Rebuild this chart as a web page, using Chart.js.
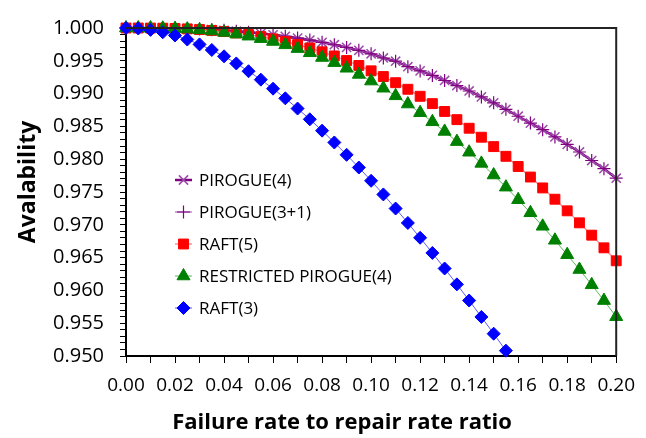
<!DOCTYPE html>
<html>
<head>
<meta charset="utf-8">
<script src="https://cdn.jsdelivr.net/npm/chart.js@4.4.1/dist/chart.umd.min.js"></script>
<style>
  html, body { margin: 0; padding: 0; background: #fff; }
  #wrap { width: 646px; height: 438px; position: relative; }
</style>
</head>
<body>
<div id="wrap"><canvas id="chart"></canvas></div>
<script>
// availability vs failure/repair ratio
const ratio = [0.000, 0.005, 0.010, 0.015, 0.020, 0.025, 0.030, 0.035, 0.040, 0.045,
  0.050, 0.055, 0.060, 0.065, 0.070, 0.075, 0.080, 0.085, 0.090, 0.095,
  0.100, 0.105, 0.110, 0.115, 0.120, 0.125, 0.130, 0.135, 0.140, 0.145,
  0.150, 0.155, 0.160, 0.165, 0.170, 0.175, 0.180, 0.185, 0.190, 0.195, 0.200];

const pirogue4 = [1.00000, 1.00000, 0.99999, 0.99997, 0.99994, 0.99989, 0.99983, 0.99975, 0.99964, 0.99951,
  0.99936, 0.99918, 0.99897, 0.99873, 0.99846, 0.99816, 0.99782, 0.99745, 0.99704, 0.99659,
  0.99607, 0.99543, 0.99494, 0.99410, 0.99346, 0.99277, 0.99200, 0.99123, 0.99040, 0.98950,
  0.98860, 0.98760, 0.98655, 0.98550, 0.98450, 0.98340, 0.98225, 0.98110, 0.97980, 0.97855, 0.97710];

const pirogue31 = [1.00000, 1.00000, 0.99999, 0.99997, 0.99994, 0.99989, 0.99983, 0.99975, 0.99964, 0.99951,
  0.99936, 0.99918, 0.99897, 0.99873, 0.99846, 0.99816, 0.99782, 0.99745, 0.99704, 0.99659,
  0.99607, 0.99543, 0.99494, 0.99410, 0.99346, 0.99277, 0.99200, 0.99123, 0.99040, 0.98950,
  0.98860, 0.98760, 0.98655, 0.98550, 0.98450, 0.98340, 0.98225, 0.98110, 0.97980, 0.97855, 0.97710];

const raft5 = [1.00000, 1.00000, 0.99999, 0.99997, 0.99993, 0.99986, 0.99976, 0.99963, 0.99946, 0.99925,
  0.99900, 0.99869, 0.99834, 0.99793, 0.99747, 0.99695, 0.99637, 0.99574, 0.99504, 0.99429,
  0.99347, 0.99260, 0.99166, 0.99066, 0.98959, 0.98847, 0.98728, 0.98603, 0.98472, 0.98335,
  0.98192, 0.98044, 0.97889, 0.97728, 0.97562, 0.97390, 0.97213, 0.97030, 0.96842, 0.96649, 0.96451];

const restricted4 = [1.00000, 1.00000, 0.99999, 0.99996, 0.99991, 0.99983, 0.99971, 0.99954, 0.99933, 0.99907,
  0.99875, 0.99838, 0.99794, 0.99743, 0.99686, 0.99622, 0.99550, 0.99472, 0.99386, 0.99292,
  0.99191, 0.99082, 0.98966, 0.98841, 0.98709, 0.98570, 0.98423, 0.98268, 0.98106, 0.97936,
  0.97759, 0.97574, 0.97382, 0.97183, 0.96977, 0.96764, 0.96544, 0.96318, 0.96085, 0.95845, 0.95599];

// RAFT(3) drops below the axis after 0.155
const raft3 = [1.00000, 0.99993, 0.99971, 0.99935, 0.99886, 0.99824, 0.99750, 0.99665, 0.99568, 0.99460,
  0.99341, 0.99213, 0.99075, 0.98928, 0.98772, 0.98608, 0.98435, 0.98255, 0.98067, 0.97873,
  0.97671, 0.97463, 0.97248, 0.97028, 0.96802, 0.96571, 0.96334, 0.96092, 0.95846, 0.95595,
  0.95340, 0.95081];

const seriesNames = ['PIROGUE(4)', 'PIROGUE(3+1)', 'RAFT(5)', 'RESTRICTED PIROGUE(4)', 'RAFT(3)'];
const xTitle = 'Failure rate to repair rate ratio';
const yTitle = 'Avalability';

const FONT = '"Open Sans", "Liberation Sans", sans-serif';

function pts(vals){
  return vals.map((v, i) => ({ x: ratio[i], y: v }));
}

const datasets = [
  { label: seriesNames[0], data: pts(pirogue4), borderColor: '#800080', borderWidth: 2.5,
    pointStyle: 'crossRot', pointRadius: 6.5, pointBorderColor: '#9a4aa8', pointBorderWidth: 1.5, order: 5 },
  { label: seriesNames[1], data: pts(pirogue31), borderColor: '#a050b0', borderWidth: 1,
    pointStyle: 'cross', pointRadius: 6.5, pointBorderColor: '#800080', pointBorderWidth: 1.2, order: 4 },
  { label: seriesNames[2], data: pts(raft5), borderColor: '#ff7b7b', borderWidth: 1.2,
    pointStyle: 'rect', pointRadius: 7, pointBackgroundColor: '#ff0000', pointBorderColor: '#ff0000', pointBorderWidth: 1, order: 3 },
  { label: seriesNames[3], data: pts(restricted4), borderColor: '#5fb65f', borderWidth: 1,
    pointStyle: 'triangle', pointRadius: 7.5, pointBackgroundColor: '#008000', pointBorderColor: '#008000', pointBorderWidth: 1, order: 2 },
  { label: seriesNames[4], data: pts(raft3), borderColor: '#5a5aff', borderWidth: 1,
    pointStyle: 'rectRot', pointRadius: 6.5, pointBackgroundColor: '#0000ff', pointBorderColor: '#0000ff', pointBorderWidth: 1, order: 1 }
];
datasets.forEach(d => { d.fill = false; d.tension = 0; d.clip = false; d.backgroundColor = d.borderColor; });

// frame around the plot area + axis titles (placed as in the original, not centred on the plot)
const frame = {
  id: 'frame',
  afterDraw(chart){
    const { ctx, chartArea: a } = chart;
    ctx.save();
    ctx.strokeStyle = '#222';
    ctx.lineWidth = 2;
    ctx.beginPath();
    ctx.moveTo(a.left, a.top); ctx.lineTo(a.right, a.top); ctx.lineTo(a.right, a.bottom);
    ctx.stroke();
    ctx.fillStyle = '#000';
    ctx.font = 'bold 22px ' + FONT;
    ctx.textAlign = 'center';
    ctx.textBaseline = 'middle';
    ctx.fillText(xTitle, 342, 423);
    ctx.translate(28, 182);
    ctx.rotate(-Math.PI / 2);
    ctx.font = 'bold 23px ' + FONT;
    ctx.fillText(yTitle, 0, 0);
    ctx.restore();
  }
};

// legend inside the plot
const insideLegend = {
  id: 'insideLegend',
  afterDraw(chart){
    const ctx = chart.ctx;
    const rows = [180, 212, 244, 276, 308];
    ctx.save();
    chart.data.datasets.forEach((d, i) => {
      const y = rows[i];
      ctx.strokeStyle = d.borderColor;
      ctx.lineWidth = d.borderWidth;
      ctx.beginPath(); ctx.moveTo(175, y); ctx.lineTo(192, y); ctx.stroke();
      const opts = { pointStyle: d.pointStyle, radius: d.pointRadius, borderWidth: d.pointBorderWidth, rotation: 0 };
      ctx.fillStyle = d.pointBackgroundColor || d.pointBorderColor;
      ctx.strokeStyle = d.pointBorderColor;
      ctx.lineWidth = d.pointBorderWidth;
      Chart.helpers.drawPoint(ctx, opts, 183.5, y);
      ctx.fillStyle = '#000';
      ctx.font = '17px ' + FONT;
      ctx.textBaseline = 'middle';
      ctx.textAlign = 'left';
      ctx.fillText(d.label, 199, y + 1);
    });
    ctx.restore();
  }
};

new Chart(document.getElementById('chart'), {
  type: 'line',
  data: { datasets },
  options: {
    responsive: true,
    maintainAspectRatio: false,
    animation: false,
    layout: { padding: { top: 18, right: 23, left: 0, bottom: 0 } },
    plugins: { legend: { display: false }, tooltip: { enabled: false } },
    scales: {
      x: {
        type: 'linear', min: 0, max: 0.2,
        afterFit(s){ s.height = 82; },
        border: { display: true, color: '#000', width: 2 },
        grid: { drawOnChartArea: false, drawTicks: true, tickLength: 7, color: '#000', tickWidth: 1 },
        ticks: {
          stepSize: 0.01, autoSkip: false, maxRotation: 0, color: '#000', padding: 11,
          font: { family: FONT, size: 19 },
          callback: v => Math.round(v * 100) % 2 === 0 ? v.toFixed(2) : ''
        }
      },
      y: {
        type: 'linear', min: 0.95, max: 1.0,
        afterFit(s){ s.width = 126; },
        border: { display: true, color: '#000', width: 2 },
        grid: { drawOnChartArea: false, drawTicks: true, tickLength: 6, color: '#000', tickWidth: 1 },
        ticks: {
          stepSize: 0.001, autoSkip: false, color: '#000', padding: 16,
          font: { family: FONT, size: 20 },
          callback: v => Math.round(v * 1000) % 5 === 0 ? v.toFixed(3) : ''
        }
      }
    }
  },
  plugins: [frame, insideLegend]
});
</script>
</body>
</html>
